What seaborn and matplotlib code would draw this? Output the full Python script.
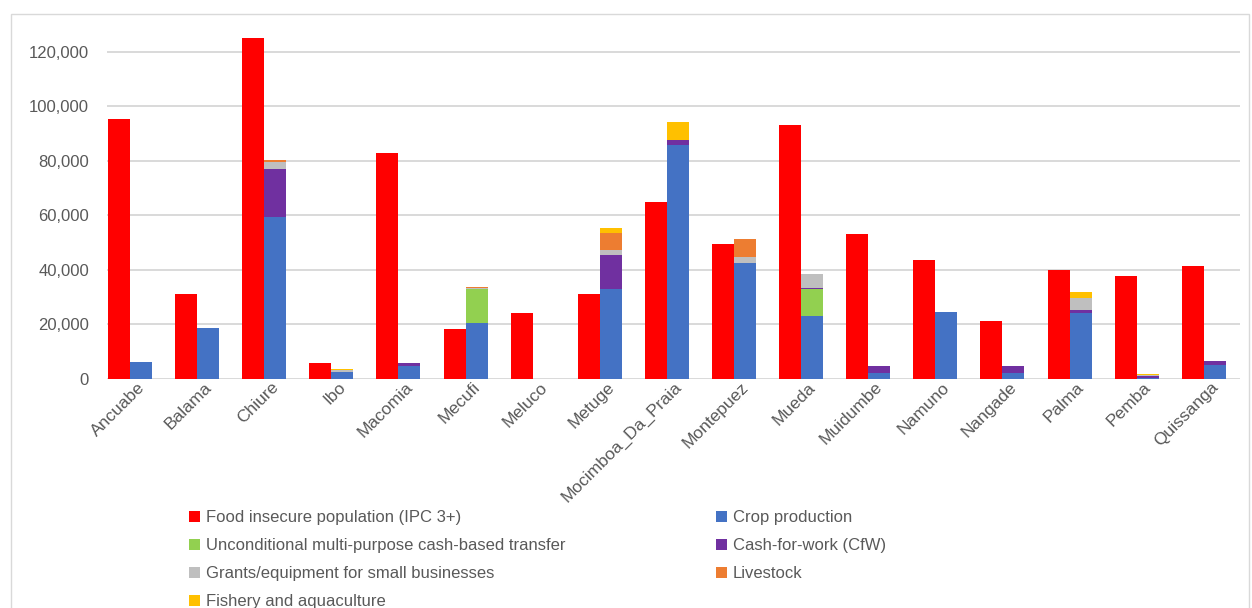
import numpy as np
import pandas as pd
import seaborn as sns
import matplotlib
matplotlib.use("Agg")
from matplotlib import pyplot as plt
from matplotlib.patches import Patch, Rectangle
from matplotlib.ticker import FuncFormatter
import matplotlib.transforms as mtrans

districts = ["Ancuabe", "Balama", "Chiure", "Ibo", "Macomia", "Mecufi", "Meluco", "Metuge",
             "Mocimboa_Da_Praia", "Montepuez", "Mueda", "Muidumbe", "Namuno", "Nangade",
             "Palma", "Pemba", "Quissanga"]

food_insecure = [95400, 31300, 125100, 5800, 83000, 18200, 24100, 31100, 65000, 49700,
                 93100, 53100, 43700, 21300, 40000, 37800, 41500]
crop = [6100, 18600, 59600, 2700, 4800, 20700, 0, 33000, 85700, 42400,
        23200, 2200, 24500, 2200, 24100, 400, 5000]
cash_transfer = [0, 0, 0, 0, 0, 12400, 0, 0, 0, 0, 9900, 0, 0, 0, 0, 0, 0]
cash_for_work = [0, 0, 17500, 0, 900, 0, 0, 12500, 1900, 0, 400, 2400, 0, 2400, 1200, 800, 1600]
grants = [0, 0, 2500, 600, 0, 300, 0, 1800, 0, 2500, 5200, 0, 0, 0, 4400, 300, 0]
livestock = [0, 0, 700, 0, 0, 400, 0, 6100, 0, 6400, 0, 0, 0, 0, 0, 0, 0]
fishery = [0, 0, 0, 400, 0, 0, 0, 1900, 6600, 0, 0, 0, 0, 0, 2200, 300, 0]

labels = ["Food insecure population (IPC 3+)", "Crop production",
          "Unconditional multi-purpose cash-based transfer", "Cash-for-work (CfW)",
          "Grants/equipment for small businesses", "Livestock", "Fishery and aquaculture"]
colors = ["#FF0000", "#4472C4", "#92D050", "#7030A0", "#BFBFBF", "#ED7D31", "#FFC000"]

sns.set_theme(style="white")
plt.rcParams['font.family'] = ['Liberation Sans', 'DejaVu Sans']
txt = "#595959"

fig = plt.figure(figsize=(12.52, 6.08), dpi=100)
ax = fig.add_axes([107/1252, 1-379/608, (1240-107)/1252, (379-20)/608])

# stacked layers drawn as cumulative totals, tallest first
layers = [crop, cash_transfer, cash_for_work, grants, livestock, fishery]
cum = np.cumsum(np.array(layers), axis=0)
for i in range(len(layers)-1, -1, -1):
    df = pd.DataFrame({
        "district": districts * 2,
        "group": ["food"]*len(districts) + ["resp"]*len(districts),
        "value": list(food_insecure if i == len(layers)-1 else [0]*len(districts)) + list(cum[i]),
    })
    sns.barplot(data=df, x="district", y="value", hue="group", order=districts,
                hue_order=["food", "resp"], palette={"food": colors[0], "resp": colors[i+1]},
                width=0.656, gap=0, saturation=1, errorbar=None, linewidth=0,
                legend=False, ax=ax)

ax.set_xlim(-0.343, 16.54)
ax.set_ylim(0, 131700)
ax.set_yticks(range(0, 120001, 20000))
ax.yaxis.set_major_formatter(FuncFormatter(lambda v, p: f"{int(v):,}"))
ax.yaxis.grid(True, color="#d9d9d9", lw=1.4)
ax.set_axisbelow(True)
for s in ax.spines.values():
    s.set_visible(False)
ax.set_xlabel("")
ax.set_ylabel("")
ax.tick_params(axis="y", length=0, pad=13, labelsize=12, labelcolor=txt)
ax.tick_params(axis="x", length=0, pad=2, labelsize=12.5, labelcolor=txt)
offset = mtrans.ScaledTranslation(12/100, -3/100, fig.dpi_scale_trans)
for lab in ax.get_xticklabels():
    lab.set_rotation(45)
    lab.set_ha("right")
    lab.set_va("center")
    lab.set_rotation_mode("anchor")
    lab.set_transform(lab.get_transform() + offset)

handles = [Patch(facecolor=c, edgecolor="none") for c in colors]
left_idx = [0, 2, 4, 6]
right_idx = [1, 3, 5]
for idx, xpx in [(left_idx, 189), (right_idx, 716)]:
    leg = fig.legend([handles[k] for k in idx], [labels[k] for k in idx],
                     loc="upper left", bbox_to_anchor=(xpx/1252, 1-510/608),
                     frameon=False, fontsize=12, handlelength=0.65, handleheight=0.65,
                     handletextpad=0.35, labelspacing=0.78, borderpad=0, borderaxespad=0)
    for t in leg.get_texts():
        t.set_color(txt)

fig.patches.append(Rectangle((11/1252, -0.1), (1249-11)/1252, 1.1-14/608,
                             transform=fig.transFigure, fill=False, ec="#d9d9d9", lw=1))

fig.savefig("out.png", dpi=100)
